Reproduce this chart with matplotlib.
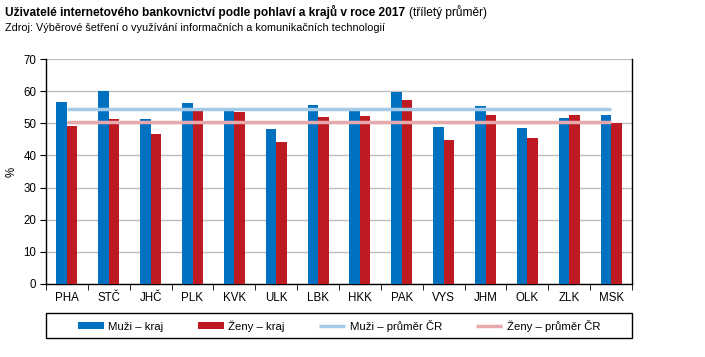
import matplotlib
matplotlib.use("Agg")
import matplotlib.pyplot as plt
from matplotlib.patches import Rectangle
import numpy as np

regions = ["PHA", "STČ", "JHČ", "PLK", "KVK", "ULK", "LBK", "HKK", "PAK", "VYS", "JHM", "OLK", "ZLK", "MSK"]
muzi_kraj = [56.7, 60.1, 51.3, 56.3, 54.0, 48.2, 55.7, 54.0, 59.8, 48.9, 55.4, 48.6, 51.6, 52.6]
zeny_kraj = [49.2, 51.3, 46.7, 54.0, 53.6, 44.2, 52.0, 52.3, 57.3, 44.8, 52.6, 45.4, 52.6, 50.1]
muzi_prumer = 54.4
zeny_prumer = 50.3
yticks = [0, 10, 20, 30, 40, 50, 60, 70]

plt.rcParams['font.family'] = ['Liberation Sans', 'DejaVu Sans']

W, H = 705, 357
fig = plt.figure(figsize=(W/100, H/100), dpi=100)
ax = fig.add_axes([46/W, 1-284/H, (632-46)/W, (284-59)/H])

blue = "#0070C0"
red = "#BE1A22"
lblue = "#A6CBE6"
lred = "#E8A9AC"

x = np.arange(len(regions))
bw = 0.25
b1 = ax.bar(x - bw/2, muzi_kraj, bw, color=blue, zorder=3, label="Muži – kraj")
b2 = ax.bar(x + bw/2, zeny_kraj, bw, color=red, zorder=3, label="Ženy – kraj")
l1, = ax.plot([x[0], x[-1]], [muzi_prumer]*2, color=lblue, lw=2.5, zorder=4, label="Muži – průměr ČR", solid_capstyle='butt')
l2, = ax.plot([x[0], x[-1]], [zeny_prumer]*2, color=lred, lw=2.5, zorder=4, label="Ženy – průměr ČR", solid_capstyle='butt')

ax.set_xlim(-0.5, len(regions) - 0.5)
ax.set_ylim(0, 70)
ax.set_yticks(yticks)
ax.set_yticklabels([str(v) for v in yticks], fontsize=8.3)
ax.yaxis.grid(True, color="#BFBFBF", lw=1, zorder=0)
ax.set_axisbelow(True)

ax.set_xticks(x)
ax.set_xticklabels(regions, fontsize=8.3)
ax.tick_params(axis='x', length=0, pad=6)
ax.set_xticks(np.arange(-0.5, len(regions)), minor=True)
ax.tick_params(axis='x', which='minor', length=4, direction='out', color='black')
ax.tick_params(axis='y', length=4, direction='out', pad=3)

for s in ['left', 'bottom', 'right']:
    ax.spines[s].set_color('black')
    ax.spines[s].set_linewidth(1)
ax.spines['top'].set_visible(False)

ax.set_ylabel("%", fontsize=8.3, labelpad=4)

t1 = fig.text(5/W, 1-12/H, "Uživatelé internetového bankovnictví podle pohlaví a krajů v roce 2017",
              fontsize=8.6, fontweight='bold', va='center', ha='left')
fig.canvas.draw()
bb = t1.get_window_extent(renderer=fig.canvas.get_renderer())
fig.text((bb.x1 + 4)/W, 1-12/H, "(tříletý průměr)", fontsize=8.6, va='center', ha='left')
fig.text(5/W, 1-28/H, "Zdroj: Výběrové šetření o využívání informačních a komunikačních technologií",
         fontsize=7.8, va='center', ha='left')

# legend frame
fig.patches.append(Rectangle((46/W, 1-338/H), (632-46)/W, 25/H, transform=fig.transFigure,
                             facecolor='none', edgecolor='black', lw=1))
leg = fig.legend(handles=[b1, b2, l1, l2], loc='center',
                 bbox_to_anchor=((46+632)/2/W, 1-325.5/H),
                 ncol=4, fontsize=8.2, frameon=False,
                 borderaxespad=0, handlelength=2.3, handleheight=0.55,
                 handletextpad=0.4, columnspacing=3.0, borderpad=0)

fig.savefig("out.png", dpi=100)
